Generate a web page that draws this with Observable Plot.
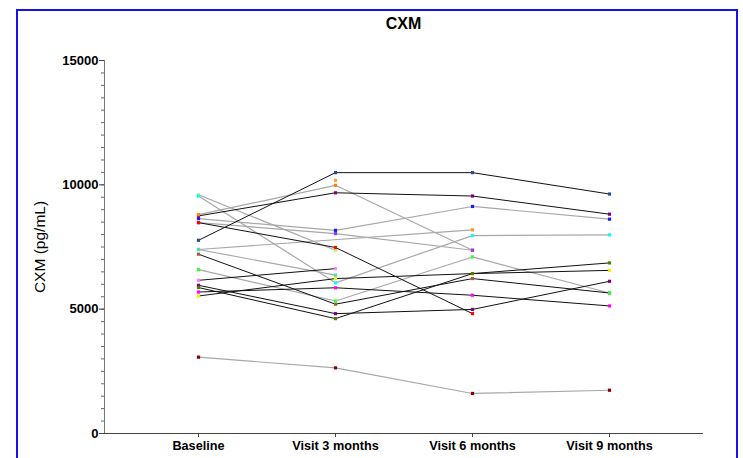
<!DOCTYPE html>
<html><head><meta charset="utf-8">
<script src="https://cdn.jsdelivr.net/npm/d3@7"></script>
<script src="https://cdn.jsdelivr.net/npm/@observablehq/plot@0.6"></script>
<style>
body{margin:0;background:#fff;}
#wrap{position:relative;width:743px;height:458px;overflow:hidden;background:#fff;}
#border{position:absolute;left:16px;top:9px;width:722px;height:520px;border:2px solid #1414e6;box-sizing:border-box;}
#title{position:absolute;left:104px;width:599px;top:15px;text-align:center;font:bold 16px "Liberation Sans",Arial,sans-serif;color:#000;}
#chart{position:absolute;left:0;top:0;}
</style></head>
<body>
<div id="wrap"><div id="border"></div><div id="chart"></div><div id="title">CXM</div></div>
<script>
const visits = ["Baseline", "Visit 3 months", "Visit 6 months", "Visit 9 months"];
const subjects = ["S1","S2","S3","S4","S5","S6","S7","S8","S9","S10","S11","S12","S13","S14","S15","S16","S17","S18","S19"];
const baseline = [7770, 8750, 8800, null, 8640, 8480, 9600, 9550, 7400, 8480, 7210, 6590, 6160, 5690, 5530, 3070, 5960, 5870, 7400];
const visit3   = [10490, 9680, 9980, 10180, 8170, 8040, 7370, 6060, null, 7480, 5200, 5330, 6630, 5860, 6230, 2640, 4820, 4620, 6370];
const visit6   = [10490, 9550, 7370, null, 9130, 7370, null, 7960, 8190, 4820, 6230, 7100, null, 5560, 6430, 1610, 4990, 6430, null];
const visit9   = [9630, 8820, null, null, 8620, null, null, 7990, null, null, 5650, 5650, null, 5130, 6560, 1740, 6120, 6860, null];
const shade    = ["dark","dark","light","light","light","light","light","light","light","dark","dark","light","dark","dark","dark","light","dark","dark","light"];
const yTicks = [0, 5000, 10000, 15000];
const yLabel = "CXM (pg/mL)";

const pointColors = ["#1f4f8f","#800080","#ff8000","#ffa030","#1a1aff","#9933ff","#c0ff40","#00ffff","#ff9900","#ff0000","#996633","#33ff33","#ff80ff","#ff00ff","#f0f000","#8b0000","#800080","#4d8000","#40e0c0"];

const series = [baseline, visit3, visit6, visit9];
const rows = [];
subjects.forEach((s, i) => {
  visits.forEach((v, j) => {
    const val = series[j][i];
    if (val != null) rows.push({subject: s, visit: v, value: val, shade: shade[i]});
  });
});
const minorTicks = d3.range(0, 15001, 500);

const chart = Plot.plot({
  width: 743, height: 458,
  marginLeft: 104, marginRight: 40, marginTop: 60, marginBottom: 25,
  style: {fontFamily: "'Liberation Sans', Arial, sans-serif", fontSize: "12px", color: "#000", background: "transparent"},
  x: {type: "point", domain: visits, padding: 0.675},
  y: {domain: [0, 15000]},
  color: {domain: subjects, range: pointColors},
  marks: [
    Plot.axisY({ticks: minorTicks, tickSize: 3, tickFormat: () => "", label: null, stroke: "#666"}),
    Plot.axisY({ticks: yTicks, tickSize: 5, tickPadding: 1, tickFormat: d3.format("d"), label: null, fontWeight: "bold", fontSize: 13, stroke: "#444"}),
    Plot.axisX({tickSize: 4, tickPadding: 3, label: null, fontWeight: "bold", fontSize: 12.7, stroke: "#444"}),
    Plot.frame({anchor: "left", stroke: "#777"}),
    Plot.ruleY([0], {stroke: "#444"}),
    Plot.text([yLabel], {frameAnchor: "left", textAnchor: "middle", rotate: -90, dx: -64, fontSize: 15.5, fill: "#000"}),
    Plot.line(rows.filter(d => d.shade === "light"), {x: "visit", y: "value", z: "subject", stroke: "#a8a8a8", strokeWidth: 1.2}),
    Plot.line(rows.filter(d => d.shade === "dark"), {x: "visit", y: "value", z: "subject", stroke: "#111", strokeWidth: 1}),
    Plot.dot(rows, {x: "visit", y: "value", fill: "subject", symbol: "square", r: 1.8})
  ]
});
document.getElementById("chart").appendChild(chart);
</script>
</body></html>
